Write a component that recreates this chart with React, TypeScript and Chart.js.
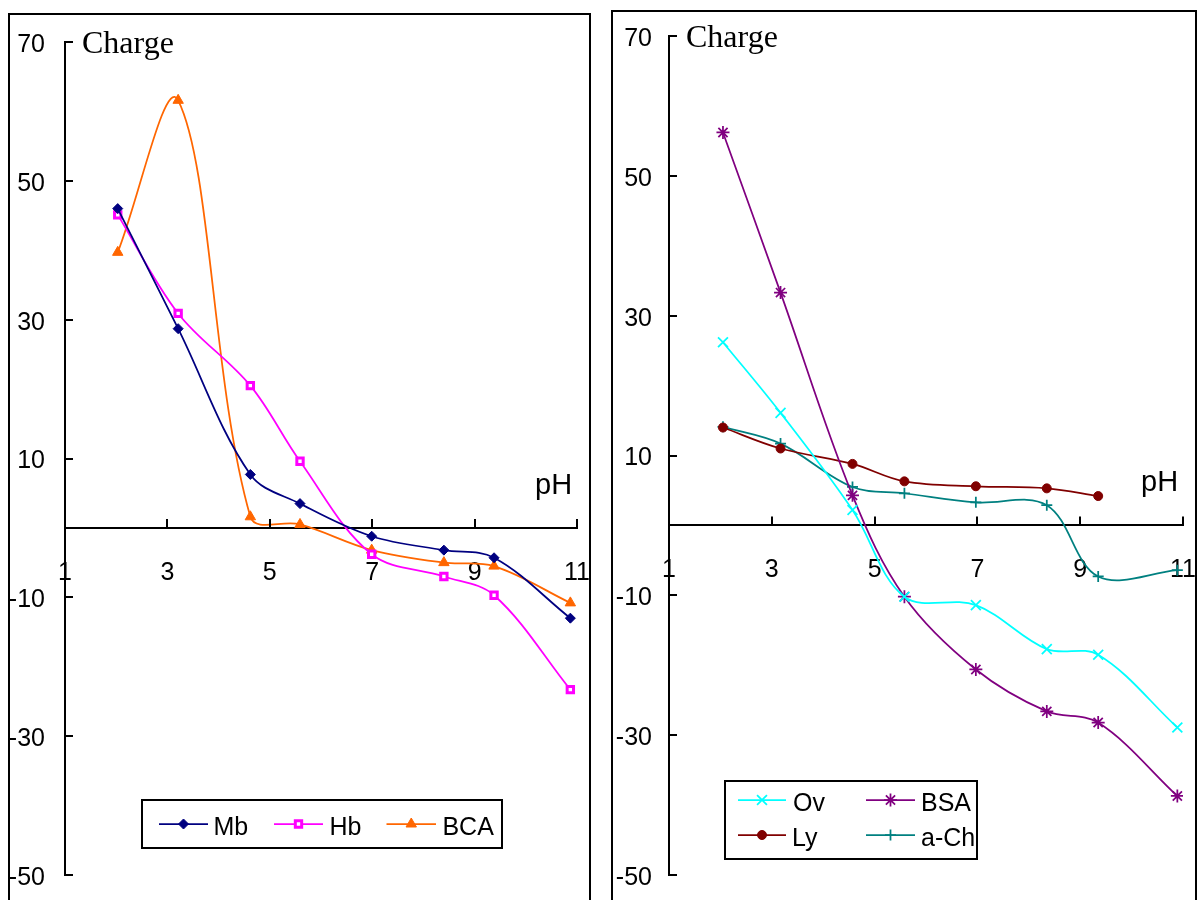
import React, { useEffect, useRef } from 'react';
import { Chart, registerables } from 'chart.js';
import { drawPoint } from 'chart.js/helpers';

Chart.register(...registerables);

// ---------- data ----------
const leftPH = [2.03, 3.21, 4.62, 5.59, 6.99, 8.4, 9.38, 10.87];
const mbCharge = [46.0, 28.7, 7.7, 3.5, -1.2, -3.2, -4.3, -13.0];
const hbCharge = [45.1, 30.9, 20.5, 9.6, -3.8, -7.0, -9.7, -23.3];
const bcaCharge = [39.7, 61.6, 1.6, 0.5, -3.2, -5.0, -5.5, -10.8];

const rightPH = [2.05, 3.17, 4.57, 5.58, 6.97, 8.35, 9.35, 10.89];
const ovCharge = [26.2, 16.1, 2.2, -10.2, -11.4, -17.7, -18.5, -28.9];
const bsaCharge = [56.2, 33.3, 4.3, -10.2, -20.6, -26.6, -28.2, -38.7];
const lyCharge = [14.0, 11.0, 8.8, 6.3, 5.6, 5.3, 4.2];
const achCharge = [14.1, 11.7, 5.5, 4.6, 3.3, 2.9, -7.3, -6.4];

const leftLabels = ['Mb', 'Hb', 'BCA'];
const rightLabels = ['Ov', 'BSA', 'Ly', 'a-Ch'];
const yTickValues = [-50, -30, -10, 10, 30, 50, 70];
const xTickValues = [1, 3, 5, 7, 9, 11];
const yTitle = 'Charge';
const xTitle = 'pH';

// ---------- styles ----------
type St = { color: string; fill: string; point: string; r: number; bw: number };
const STY: Record<string, St> = {
  Mb: { color: '#000080', fill: '#000080', point: 'rectRot', r: 5, bw: 1 },
  Hb: { color: '#FF00FF', fill: '#FFFFFF', point: 'rect', r: 4.5, bw: 3 },
  BCA: { color: '#FF6600', fill: '#FF6600', point: 'triangle', r: 6, bw: 1 },
  Ov: { color: '#00FFFF', fill: '#00FFFF', point: 'crossRot', r: 7, bw: 1.75 },
  BSA: { color: '#800080', fill: '#800080', point: 'star', r: 6.5, bw: 1.75 },
  Ly: { color: '#800000', fill: '#800000', point: 'circle', r: 4.5, bw: 1 },
  'a-Ch': { color: '#008080', fill: '#008080', point: 'cross', r: 5.5, bw: 1.75 },
};

function series(label: string, xs: number[], ys: number[]) {
  const st = STY[label];
  return {
    label,
    data: ys.map((y, i) => ({ x: xs[i], y })),
    borderColor: st.color,
    backgroundColor: st.fill,
    pointStyle: st.point,
    pointRadius: st.r,
    pointHoverRadius: st.r,
    pointBorderWidth: st.bw,
    pointBorderColor: st.color,
    pointBackgroundColor: st.fill,
    borderWidth: 1.75,
    tension: 0.35,
    fill: false,
  };
}

const SANS = '"Liberation Sans", Arial, sans-serif';
const SERIF = '"Liberation Serif", "Times New Roman", serif';

type LegendItem = { label: string; x1: number; x2: number; tx: number; y: number };
type PanelCfg = {
  datasets: any[];
  width: number;
  height: number;
  left: number;
  top: number;
  padding: { top: number; right: number; bottom: number; left: number };
  yWidth: number;
  yPad: number;
  legendBox: { x: number; y: number; w: number; h: number };
  legendItems: LegendItem[];
};

const decorPlugin = {
  id: 'decor',
  afterDraw(chart: any, _args: any, opts: any) {
    const ctx = chart.ctx as CanvasRenderingContext2D;
    const xs = chart.scales.x;
    const ys = chart.scales.y;
    const ca = chart.chartArea;
    const y0 = ys.getPixelForValue(0);
    ctx.save();
    // tick marks (inside)
    ctx.strokeStyle = '#000';
    ctx.lineWidth = 2;
    ctx.beginPath();
    yTickValues.forEach((v) => {
      const p = Math.round(ys.getPixelForValue(v));
      ctx.moveTo(ca.left, p);
      ctx.lineTo(ca.left + 8, p);
    });
    xTickValues.forEach((v) => {
      const p = Math.round(xs.getPixelForValue(v));
      ctx.moveTo(p, y0);
      ctx.lineTo(p, y0 - 9);
    });
    ctx.stroke();

    // axis titles
    ctx.fillStyle = '#000';
    ctx.textAlign = 'left';
    ctx.textBaseline = 'alphabetic';
    ctx.font = '32px ' + SERIF;
    ctx.fillText(yTitle, ca.left + 17, ca.top + 11);
    ctx.font = '29px ' + SANS;
    ctx.fillText(xTitle, ca.right - 42, y0 - 34);

    // legend
    const lb = opts.box;
    ctx.fillStyle = '#fff';
    ctx.fillRect(lb.x, lb.y, lb.w, lb.h);
    ctx.strokeStyle = '#000';
    ctx.lineWidth = 2;
    ctx.strokeRect(lb.x, lb.y, lb.w, lb.h);
    (opts.items as LegendItem[]).forEach((it) => {
      const st = STY[it.label];
      ctx.strokeStyle = st.color;
      ctx.lineWidth = 1.75;
      ctx.beginPath();
      ctx.moveTo(it.x1, it.y);
      ctx.lineTo(it.x2, it.y);
      ctx.stroke();
      ctx.fillStyle = st.fill;
      ctx.strokeStyle = st.color;
      ctx.lineWidth = st.bw;
      drawPoint(ctx, { pointStyle: st.point as any, rotation: 0, radius: st.r, borderWidth: st.bw }, (it.x1 + it.x2) / 2, it.y);
      ctx.fillStyle = '#000';
      ctx.font = '25px ' + SANS;
      ctx.textAlign = 'left';
      ctx.textBaseline = 'alphabetic';
      ctx.fillText(it.label, it.tx, it.y + 11);
    });
    ctx.restore();
  },
};

function zeroPad(s: any) {
  s.paddingLeft = 0;
  s.paddingRight = 0;
  s.paddingTop = 0;
  s.paddingBottom = 0;
}

function ChartPanel({ cfg }: { cfg: PanelCfg }) {
  const ref = useRef<HTMLCanvasElement | null>(null);
  useEffect(() => {
    if (!ref.current) return;
    const chart = new Chart(ref.current, {
      type: 'line',
      data: { datasets: cfg.datasets },
      plugins: [decorPlugin as any],
      options: {
        responsive: false,
        animation: false,
        events: [],
        layout: { padding: cfg.padding },
        plugins: {
          legend: { display: false },
          tooltip: { enabled: false },
          decor: { box: cfg.legendBox, items: cfg.legendItems },
        } as any,
        scales: {
          x: {
            type: 'linear',
            position: { y: 0 } as any,
            min: 1,
            max: 11,
            afterBuildTicks: (s: any) => {
              s.ticks = xTickValues.map((v) => ({ value: v }));
            },
            afterFit: zeroPad,
            grid: { display: true, drawOnChartArea: false, drawTicks: false },
            border: { display: true, color: '#000', width: 2 },
            ticks: {
              autoSkip: false,
              maxRotation: 0,
              padding: 30,
              color: '#000',
              font: { family: SANS, size: 25 },
              callback: (v: any) => String(v),
            },
          },
          y: {
            type: 'linear',
            position: 'left',
            min: -50,
            max: 70,
            afterBuildTicks: (s: any) => {
              s.ticks = yTickValues.map((v) => ({ value: v }));
            },
            afterFit: (s: any) => {
              s.width = cfg.yWidth;
              zeroPad(s);
            },
            grid: { display: true, drawOnChartArea: false, drawTicks: false },
            border: { display: true, color: '#000', width: 2 },
            ticks: {
              padding: cfg.yPad,
              labelOffset: 3,
              color: '#000',
              font: { family: SANS, size: 25 },
              callback: (v: any) => String(v),
            },
          },
        },
      } as any,
    });
    return () => chart.destroy();
  }, [cfg]);
  return (
    <canvas
      ref={ref}
      width={cfg.width}
      height={cfg.height}
      style={{ position: 'absolute', left: cfg.left, top: cfg.top, width: cfg.width, height: cfg.height }}
    />
  );
}

const leftCfg: PanelCfg = {
  datasets: [
    series(leftLabels[0], leftPH, mbCharge),
    series(leftLabels[1], leftPH, hbCharge),
    series(leftLabels[2], leftPH, bcaCharge),
  ],
  width: 580,
  height: 885,
  left: 10,
  top: 15,
  padding: { top: 27, right: 13, bottom: 25, left: 0 },
  yWidth: 55,
  yPad: 20,
  legendBox: { x: 132, y: 785, w: 360, h: 48 },
  legendItems: [
    { label: 'Mb', x1: 149, x2: 198, tx: 203.5, y: 809 },
    { label: 'Hb', x1: 264, x2: 313, tx: 319.5, y: 809 },
    { label: 'BCA', x1: 376.5, x2: 426, tx: 432.4, y: 809 },
  ],
};

const rightCfg: PanelCfg = {
  datasets: [
    series(rightLabels[0], rightPH, ovCharge),
    series(rightLabels[1], rightPH, bsaCharge),
    series(rightLabels[2], rightPH.slice(0, lyCharge.length), lyCharge),
    series(rightLabels[3], rightPH, achCharge),
  ],
  width: 582,
  height: 888,
  left: 613,
  top: 12,
  padding: { top: 24, right: 12, bottom: 25, left: 0 },
  yWidth: 56,
  yPad: 17,
  legendBox: { x: 112, y: 769, w: 252, h: 78 },
  legendItems: [
    { label: 'Ov', x1: 125, x2: 173, tx: 180, y: 788 },
    { label: 'BSA', x1: 253, x2: 302, tx: 308, y: 788 },
    { label: 'Ly', x1: 125, x2: 173, tx: 179, y: 823 },
    { label: 'a-Ch', x1: 253, x2: 302, tx: 308, y: 823 },
  ],
};

export default function App() {
  return (
    <div style={{ position: 'absolute', left: 0, top: 0, width: 1198, height: 900, overflow: 'hidden', background: '#fff' }}>
      <ChartPanel cfg={leftCfg} />
      <ChartPanel cfg={rightCfg} />
      <div style={{ position: 'absolute', left: 8, top: 13, width: 583, height: 900, border: '2px solid #000', boxSizing: 'border-box', pointerEvents: 'none' }} />
      <div style={{ position: 'absolute', left: 611, top: 10, width: 586, height: 900, border: '2px solid #000', boxSizing: 'border-box', pointerEvents: 'none' }} />
    </div>
  );
}
